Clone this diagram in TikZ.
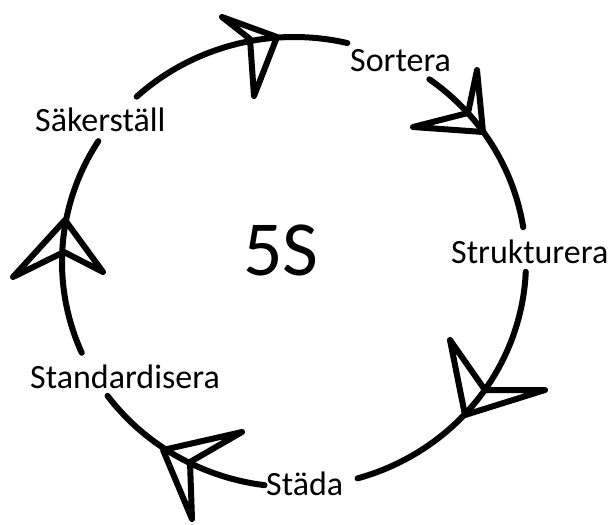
\documentclass[tikz,border=0pt]{standalone}
\usepackage{fontspec}
\setmainfont{Carlito}
\begin{document}
\begin{tikzpicture}[x=1bp,y=-1bp,
  ring/.style={line width=6bp,line cap=round,line join=round},
  lbl/.style={anchor=base west,inner sep=0pt,font=\fontsize{34bp}{40bp}\selectfont},
  big/.style={anchor=base west,inner sep=0pt,font=\fontsize{78bp}{90bp}\selectfont},
]
\useasboundingbox (0,0) rectangle (616,525);
% labels
\node[lbl] (sortera) at (350,72) {Sortera};
\node[lbl] (struk) at (451,263) {Strukturera};
\node[lbl] (stada) at (266,495) {Städa};
\node[lbl] (stand) at (30,388) {Standardisera};
\node[lbl] (saker) at (35,132) {Säkerställ};
\node[big] (fives) at (243,275) {5S};
% ring segments between labels
\foreach \a/\b in {-54.3/-8.9, 2.5/74.1, 97.3/143.5, 156.2/212.5, 227.3/283.3}{
  \draw[ring,smooth,domain=\a:\b,samples=40,variable=\t]
    plot ({294+232*cos(\t)},{262+225*sin(\t)});
}
% arrowheads (A, P = tip, B, N = notch)
\coordinate (a1A) at (222,17);  \coordinate (a1P) at (277,37);
\coordinate (a1B) at (254,96);  \coordinate (a1N) at (250,39);
\coordinate (a2A) at (477,70);  \coordinate (a2P) at (483,132);
\coordinate (a2B) at (413,127); \coordinate (a2N) at (468,113);
\coordinate (a3A) at (450,340); \coordinate (a3P) at (465,415);
\coordinate (a3B) at (545,390); \coordinate (a3N) at (485,390);
\coordinate (a4A) at (242,432); \coordinate (a4P) at (163,450);
\coordinate (a4B) at (192,519); \coordinate (a4N) at (190,462);
\coordinate (a5A) at (13,277);  \coordinate (a5P) at (65,220);
\coordinate (a5B) at (103,272); \coordinate (a5N) at (64,252);
\foreach \i in {1,...,5}{
  \draw[ring] (a\i A) -- (a\i P) -- (a\i B) -- (a\i N) -- cycle;
}
\end{tikzpicture}
\end{document}
